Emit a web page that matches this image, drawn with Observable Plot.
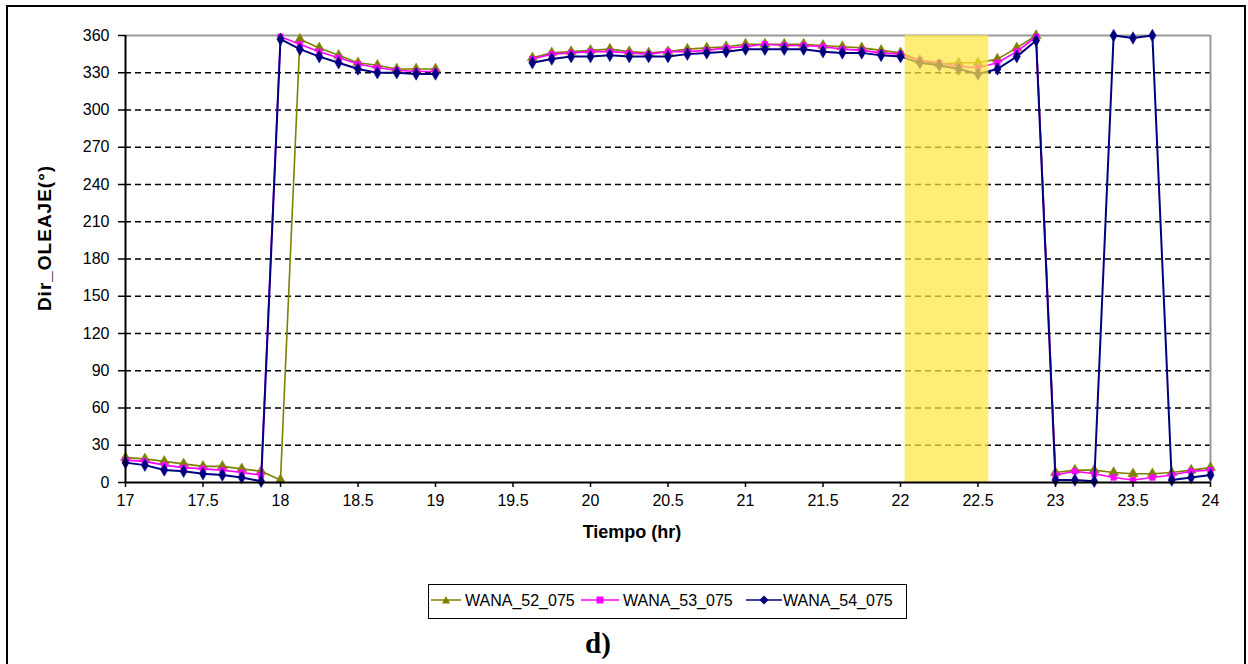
<!DOCTYPE html>
<html>
<head>
<meta charset="utf-8">
<script src="https://cdn.jsdelivr.net/npm/d3@7"></script>
<script src="https://cdn.jsdelivr.net/npm/@observablehq/plot@0.6"></script>
<style>
  body { margin:0; width:1248px; height:664px; position:relative; overflow:hidden; background:#fff; font-family:"Liberation Sans", Arial, sans-serif; }
  #frame { position:absolute; left:6px; top:5px; width:1236px; height:700px; border:2px solid #000; border-bottom:none; }
  #chart { position:absolute; left:0; top:0; }
  .lbl { position:absolute; white-space:nowrap; font-weight:bold; color:#000; }
  #legend { position:absolute; left:428px; top:584px; width:479px; height:35px; box-sizing:border-box; border:1.5px solid #000; background:#fff; }
  .item { position:absolute; top:0; height:32px; }
  .item span { position:absolute; top:7px; font-size:16px; white-space:nowrap; color:#000; }
  .item svg { position:absolute; top:10px; }
  #cap { position:absolute; left:598px; top:660px; transform:translate(-50%,-100%); font:bold 29px "Liberation Serif", "Times New Roman", serif; }
</style>
</head>
<body>
<div id="frame"></div>
<div id="chart"></div>
<div class="lbl" id="ylab" style="left:45px; top:238px; transform:translate(-50%,-50%) rotate(-90deg); font-size:19px; letter-spacing:1px;">Dir_OLEAJE(°)</div>
<div class="lbl" style="left:632px; top:532px; transform:translate(-50%,-50%); font-size:18px;">Tiempo (hr)</div>
<div id="legend"></div>
<div id="cap">d)</div>
<script>
// ---- data ----
const times = [17, 17.125, 17.25, 17.375, 17.5, 17.625, 17.75, 17.875,
  18, 18.125, 18.25, 18.375, 18.5, 18.625, 18.75, 18.875,
  19, 19.125, 19.25, 19.375, 19.5, 19.625, 19.75, 19.875,
  20, 20.125, 20.25, 20.375, 20.5, 20.625, 20.75, 20.875,
  21, 21.125, 21.25, 21.375, 21.5, 21.625, 21.75, 21.875,
  22, 22.125, 22.25, 22.375, 22.5, 22.625, 22.75, 22.875,
  23, 23.125, 23.25, 23.375, 23.5, 23.625, 23.75, 23.875, 24];

const wana52 = [20, 19, 17, 15, 13, 13, 11, 9,
  2, 357, 350, 344, 338, 336, 333, 333,
  333, null, null, null, null, 342, 346, 347,
  348, 349, 347, 346, 347, 349, 350, 351,
  353, 353, 353, 353, 352, 351, 350, 348,
  346, 340, 337, 338, 338, 341, 350, 360,
  8, 10, 10, 8, 7, 7, 8, 10, 12];

const wana53 = [18, 17, 14, 12, 11, 10, 8, 6,
  359, 353, 347, 342, 337, 334, 332, 331,
  331, null, null, null, null, 341, 345, 346,
  347, 347, 346, 345, 347, 347, 348, 350,
  351, 353, 352, 352, 351, 349, 348, 346,
  345, 340, 338, 335, 334, 338, 347, 359,
  6, 9, 7, 4, 2, 4, 6, 9, 10];

const wana54 = [16, 14, 10, 9, 7, 6, 4, 1,
  357, 349, 343, 338, 333, 330, 330, 329,
  329, null, null, null, null, 338, 341, 343,
  343, 344, 343, 343, 343, 345, 346, 347,
  349, 349, 349, 349, 347, 346, 346, 344,
  343, 338, 336, 333, 329, 333, 343, 356,
  2, 2, 1, 360, 358, 360, 2, 4, 6];

const seriesNames = ["WANA_52_075", "WANA_53_075", "WANA_54_075"];
const seriesColors = ["#808000", "#ff00ff", "#000080"];
const seriesSymbols = ["triangle", "square", "diamond"];
const xTicks = [17, 17.5, 18, 18.5, 19, 19.5, 20, 20.5, 21, 21.5, 22, 22.5, 23, 23.5, 24];
const yTicks = [0, 30, 60, 90, 120, 150, 180, 210, 240, 270, 300, 330, 360];
const highlightStart = [22.03];
const highlightEnd = [22.57];

// ---- build ----
const allValues = [wana52, wana53, wana54];
const series = seriesNames.map((name, k) =>
  times.map((t, i) => ({t, v: allValues[k][i], s: name})));
const band = highlightStart.map((a, i) => ({x1: a, x2: highlightEnd[i], y1: 0, y2: 360}));

const marks = [
  Plot.ruleY(yTicks.filter(d => d > 0 && d < 360), {stroke: "#000", strokeWidth: 1.6, strokeDasharray: "6,4"}),
  Plot.ruleY([360], {stroke: "#999", strokeWidth: 2}),
  Plot.ruleX([24], {stroke: "#999", strokeWidth: 2})
];
series.forEach((rows, k) => {
  marks.push(Plot.line(rows, {x: "t", y: "v", stroke: seriesColors[k], strokeWidth: k === 2 ? 2 : 1.6}));
  marks.push(Plot.dot(rows.filter(d => d.v != null), {x: "t", y: "v", symbol: () => seriesSymbols[k], fill: seriesColors[k], stroke: seriesColors[k], strokeWidth: 0.5, r: k === 1 ? 3.2 : 3.8}));
});
marks.push(Plot.rect(band, {x1: "x1", x2: "x2", y1: "y1", y2: "y2", fill: "#ffe640", fillOpacity: 0.72}));
marks.push(Plot.axisY({ticks: yTicks, tickSize: 7, tickPadding: 9, label: null, stroke: "#000", strokeWidth: 1.5, fontSize: 16}));
marks.push(Plot.axisX({ticks: xTicks, tickSize: 5, tickPadding: 7, label: null, stroke: "#000", strokeWidth: 1.5, fontSize: 16, tickFormat: d => String(d)}));
marks.push(Plot.ruleX([17], {stroke: "#000", strokeWidth: 2}));
marks.push(Plot.ruleY([0], {stroke: "#000", strokeWidth: 2}));

const chart = Plot.plot({
  width: 1248,
  height: 560,
  marginLeft: 125,
  marginRight: 38,
  marginTop: 35,
  marginBottom: 78,
  x: {domain: [17, 24]},
  y: {domain: [0, 360]},
  style: {fontFamily: "'Liberation Sans', Arial, sans-serif", fontSize: "16px", color: "#000", background: "transparent", overflow: "visible"},
  marks
});
document.getElementById("chart").appendChild(chart);

// ---- legend ----
const legend = document.getElementById("legend");
const itemPos = [[0, 36], [150, 194], [315, 354]];
const lineW = [30, 38, 36];
seriesNames.forEach((name, k) => {
  const it = document.createElement("div");
  it.className = "item";
  it.style.left = itemPos[k][0] + "px";
  const w = lineW[k];
  const c = seriesColors[k];
  const cx = w / 2, cy = 5;
  let m;
  if (k === 0) m = `<path d="M${cx - 4},${cy + 3.5} L${cx},${cy - 4} L${cx + 4},${cy + 3.5} Z" fill="${c}"/>`;
  else if (k === 1) m = `<rect x="${cx - 3.5}" y="${cy - 3.5}" width="7" height="7" fill="${c}"/>`;
  else m = `<path d="M${cx},${cy - 4.5} L${cx + 4.5},${cy} L${cx},${cy + 4.5} L${cx - 4.5},${cy} Z" fill="${c}"/>`;
  it.innerHTML = `<svg width="${w}" height="11" style="left:2px"><line x1="0" x2="${w}" y1="${cy}" y2="${cy}" stroke="${c}" stroke-width="1.5"/>${m}</svg><span style="left:${itemPos[k][1] - itemPos[k][0]}px">${name}</span>`;
  legend.appendChild(it);
});
</script>
</body>
</html>
